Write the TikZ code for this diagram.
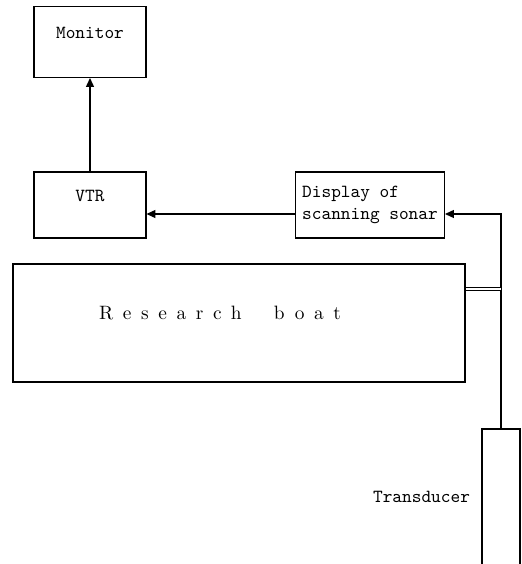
\documentclass[tikz,border=0pt]{standalone}
\usepackage{fontspec}
\newfontfamily\spacedfont[LetterSpace=50]{Latin Modern Roman}
\usetikzlibrary{arrows.meta,positioning}
\tikzset{
  unit/.style={draw, line width=0.6pt, minimum width=2.24cm, minimum height=1.38cm, inner sep=0pt},
  tag/.style={font=\fontsize{10.5}{12.5}\ttfamily},
  feed/.style={line width=0.6pt, -{Triangle[length=5pt,width=4.5pt]}},
}

\begin{document}
\begin{tikzpicture}[x=0.02cm, y=-0.02cm]
  \useasboundingbox (0,0) rectangle (521,564);
  % units on deck
  \node[unit, minimum height=1.42cm] (monitor) at (90,42) {};
  \node[tag, below=0.3cm of monitor.north] (montag) {Monitor};
  \node[unit, minimum height=1.32cm] (vtr) at (90,205) {};
  \node[tag, below=0.26cm of vtr.north] (vtrtag) {VTR};
  \node[unit, tag, minimum width=2.98cm, minimum height=1.32cm, align=left] (sonar) at (370,205) {Display of\\scanning sonar};
  % the boat
  \node[draw, line width=1.2pt, minimum width=9.04cm, minimum height=2.36cm] (boat) at (239,323) {};
  \node[font=\fontsize{11}{13}\spacedfont] (boattag) at (220,313) {Research\ \ boat};
  % transducer, open at the bottom
  \node[minimum width=0.74cm, minimum height=2.7cm, inner sep=0pt] (transducer) at (501,496.5) {};
  \draw[line width=0.8pt] (transducer.south west) -- (transducer.north west) -- (transducer.north east) -- (transducer.south east);
  \draw[line width=1.2pt] (transducer.north west) -- (transducer.north east);
  \node[tag, left=0.12cm of transducer.west] (tdtag) {Transducer};
  % signal lines
  \draw[feed] (vtr) -- (monitor);
  \draw[feed] ([yshift=-0.18cm]sonar.west) -- ([yshift=-0.18cm]vtr.east);
  \draw[feed] (transducer.north) |- ([yshift=-0.18cm]sonar.east);
  \draw[double, double distance=1.5pt, line width=0.4pt] ([yshift=0.68cm]boat.east) -- ([yshift=0.68cm]boat.east -| transducer.north);
\end{tikzpicture}
\end{document}
